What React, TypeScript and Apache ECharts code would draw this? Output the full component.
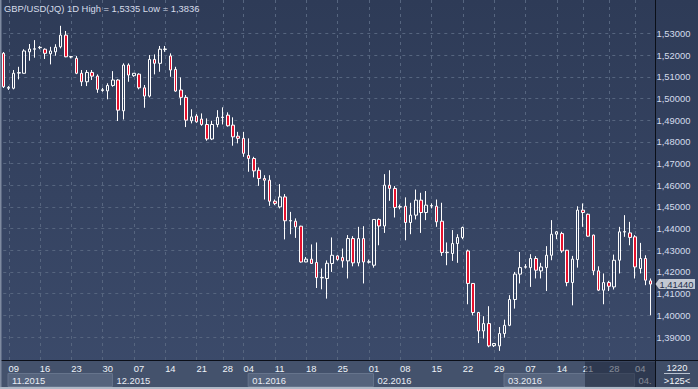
import React, { useEffect, useRef } from 'react';
import * as echarts from 'echarts';

const dates = [
  '2015-11-08',
  '2015-11-09','2015-11-10','2015-11-11','2015-11-12','2015-11-13','2015-11-15',
  '2015-11-16','2015-11-17','2015-11-18','2015-11-19','2015-11-20','2015-11-22',
  '2015-11-23','2015-11-24','2015-11-25','2015-11-26','2015-11-27','2015-11-29',
  '2015-11-30','2015-12-01','2015-12-02','2015-12-03','2015-12-04','2015-12-06',
  '2015-12-07','2015-12-08','2015-12-09','2015-12-10','2015-12-11','2015-12-13',
  '2015-12-14','2015-12-15','2015-12-16','2015-12-17','2015-12-18','2015-12-20',
  '2015-12-21','2015-12-22','2015-12-23','2015-12-24','2015-12-27',
  '2015-12-28','2015-12-29','2015-12-30','2015-12-31',
  '2016-01-04','2016-01-05','2016-01-06','2016-01-07','2016-01-08','2016-01-10',
  '2016-01-11','2016-01-12','2016-01-13','2016-01-14','2016-01-15','2016-01-17',
  '2016-01-18','2016-01-19','2016-01-20','2016-01-21','2016-01-22','2016-01-24',
  '2016-01-25','2016-01-26','2016-01-27','2016-01-28','2016-01-29','2016-01-31',
  '2016-02-01','2016-02-02','2016-02-03','2016-02-04','2016-02-05','2016-02-07',
  '2016-02-08','2016-02-09','2016-02-10','2016-02-11','2016-02-12','2016-02-14',
  '2016-02-15','2016-02-16','2016-02-17','2016-02-18','2016-02-19','2016-02-21',
  '2016-02-22','2016-02-23','2016-02-24','2016-02-25','2016-02-26','2016-02-28',
  '2016-02-29','2016-03-01','2016-03-02','2016-03-03','2016-03-04','2016-03-06',
  '2016-03-07','2016-03-08','2016-03-09','2016-03-10','2016-03-11','2016-03-13',
  '2016-03-14','2016-03-15','2016-03-16','2016-03-17','2016-03-18',
  '2016-03-21','2016-03-22','2016-03-23','2016-03-24','2016-03-27',
  '2016-03-28','2016-03-29','2016-03-30','2016-03-31','2016-04-01',
  '2016-04-04','2016-04-05','2016-04-06','2016-04-07',
];

const opens = [
  1.5208, 1.5047, 1.5047, 1.5117, 1.5116, 1.5215, 1.5227, 1.5234, 1.5227, 1.5206,
  1.5215, 1.5238, 1.5292, 1.5191, 1.5185, 1.5116, 1.5077, 1.5120, 1.5103, 1.5037,
  1.5035, 1.5060, 1.5085, 1.4943, 1.5154, 1.5105, 1.5112, 1.5049, 1.5011, 1.5180,
  1.5162, 1.5226, 1.5196, 1.5134, 1.5039, 1.5005, 1.4897, 1.4919, 1.4905, 1.4880,
  1.4813, 1.4880, 1.4912, 1.4923, 1.4877, 1.4826, 1.4816, 1.4737, 1.4723, 1.4669,
  1.4631, 1.4623, 1.4526, 1.4500, 1.4546, 1.4435, 1.4434, 1.4411, 1.4246, 1.4259,
  1.4244, 1.4173, 1.4170, 1.4239, 1.4274, 1.4267, 1.4251, 1.4354, 1.4242, 1.4354,
  1.4245, 1.4231, 1.4442, 1.4412, 1.4600, 1.4585, 1.4499, 1.4503, 1.4428, 1.4462,
  1.4531, 1.4474, 1.4504, 1.4503, 1.4434, 1.4289, 1.4285, 1.4331, 1.4359, 1.4297,
  1.4147, 1.4013, 1.3928, 1.3962, 1.3860, 1.3859, 1.3916, 1.3954, 1.4073, 1.4190,
  1.4222, 1.4220, 1.4262, 1.4205, 1.4220, 1.4277, 1.4374, 1.4377, 1.4300, 1.4151,
  1.4257, 1.4485, 1.4466, 1.4370, 1.4205, 1.4116, 1.4151, 1.4131, 1.4254, 1.4384,
  1.4380, 1.4362, 1.4216, 1.4262, 1.4159,
];

const closes = [
  1.5054, 1.5051, 1.5116, 1.5119, 1.5219, 1.5228, 1.5229, 1.5236, 1.5208, 1.5219,
  1.5236, 1.5292, 1.5192, 1.5193, 1.5116, 1.5077, 1.5120, 1.5103, 1.5042, 1.5040,
  1.5060, 1.5085, 1.4946, 1.5154, 1.5108, 1.5116, 1.5049, 1.5011, 1.5180, 1.5162,
  1.5227, 1.5228, 1.5131, 1.5034, 1.5005, 1.4900, 1.4915, 1.4892, 1.4880, 1.4813,
  1.4880, 1.4913, 1.4914, 1.4874, 1.4823, 1.4816, 1.4747, 1.4723, 1.4666, 1.4631,
  1.4623, 1.4526, 1.4516, 1.4546, 1.4436, 1.4437, 1.4408, 1.4246, 1.4259, 1.4239,
  1.4174, 1.4175, 1.4240, 1.4277, 1.4257, 1.4251, 1.4354, 1.4242, 1.4354, 1.4246,
  1.4247, 1.4442, 1.4412, 1.4600, 1.4585, 1.4497, 1.4501, 1.4428, 1.4462, 1.4531,
  1.4474, 1.4508, 1.4506, 1.4431, 1.4290, 1.4291, 1.4331, 1.4359, 1.4405, 1.4147,
  1.4013, 1.3928, 1.3962, 1.3859, 1.3870, 1.3916, 1.3954, 1.4073, 1.4190, 1.4220,
  1.4224, 1.4262, 1.4208, 1.4223, 1.4277, 1.4374, 1.4385, 1.4297, 1.4151, 1.4259,
  1.4485, 1.4474, 1.4365, 1.4205, 1.4116, 1.4151, 1.4134, 1.4254, 1.4385, 1.4386,
  1.4359, 1.4223, 1.4262, 1.4162, 1.4144,
];

const lows = [
  1.5048, 1.5039, 1.5042, 1.5088, 1.5115, 1.5174, 1.5188, 1.5227, 1.5182, 1.5157,
  1.5197, 1.5231, 1.5190, 1.5185, 1.5112, 1.5057, 1.5057, 1.5085, 1.5026, 1.5031,
  1.4996, 1.5054, 1.4896, 1.4903, 1.5077, 1.5100, 1.5042, 1.4957, 1.5005, 1.5111,
  1.5123, 1.5215, 1.5100, 1.5031, 1.4969, 1.4868, 1.4885, 1.4888, 1.4874, 1.4805,
  1.4808, 1.4867, 1.4880, 1.4870, 1.4782, 1.4793, 1.4731, 1.4662, 1.4636, 1.4597,
  1.4534, 1.4505, 1.4508, 1.4493, 1.4350, 1.4374, 1.4357, 1.4243, 1.4245, 1.4237,
  1.4126, 1.4120, 1.4077, 1.4200, 1.4252, 1.4220, 1.4170, 1.4226, 1.4226, 1.4147,
  1.4239, 1.4220, 1.4323, 1.4380, 1.4528, 1.4451, 1.4489, 1.4346, 1.4374, 1.4442,
  1.4380, 1.4439, 1.4493, 1.4408, 1.4274, 1.4231, 1.4251, 1.4242, 1.4351, 1.4051,
  1.4000, 1.3872, 1.3893, 1.3853, 1.3854, 1.3836, 1.3897, 1.3950, 1.4031, 1.4147,
  1.4216, 1.4131, 1.4170, 1.4170, 1.4112, 1.4254, 1.4351, 1.4288, 1.4134, 1.4046,
  1.4220, 1.4408, 1.4362, 1.4185, 1.4112, 1.4051, 1.4112, 1.4119, 1.4193, 1.4362,
  1.4323, 1.4170, 1.4193, 1.4139, 1.4000,
];

const highs = [
  1.5214, 1.5057, 1.5131, 1.5146, 1.5227, 1.5251, 1.5269, 1.5242, 1.5231, 1.5238,
  1.5250, 1.5335, 1.5311, 1.5196, 1.5196, 1.5131, 1.5131, 1.5131, 1.5111, 1.5049,
  1.5070, 1.5126, 1.5089, 1.5162, 1.5162, 1.5117, 1.5116, 1.5062, 1.5200, 1.5203,
  1.5242, 1.5242, 1.5208, 1.5146, 1.5097, 1.5016, 1.4950, 1.4928, 1.4931, 1.4908,
  1.4897, 1.4946, 1.4959, 1.4936, 1.4913, 1.4846, 1.4846, 1.4816, 1.4731, 1.4682,
  1.4646, 1.4646, 1.4534, 1.4605, 1.4559, 1.4477, 1.4447, 1.4413, 1.4269, 1.4327,
  1.4336, 1.4216, 1.4253, 1.4359, 1.4277, 1.4308, 1.4370, 1.4365, 1.4408, 1.4411,
  1.4257, 1.4443, 1.4447, 1.4651, 1.4669, 1.4596, 1.4511, 1.4544, 1.4519, 1.4580,
  1.4565, 1.4573, 1.4516, 1.4534, 1.4519, 1.4336, 1.4393, 1.4374, 1.4409, 1.4303,
  1.4149, 1.4016, 1.3996, 1.4042, 1.3872, 1.3946, 1.3980, 1.4093, 1.4200, 1.4292,
  1.4236, 1.4282, 1.4273, 1.4242, 1.4319, 1.4439, 1.4389, 1.4385, 1.4302, 1.4274,
  1.4503, 1.4516, 1.4469, 1.4372, 1.4226, 1.4193, 1.4159, 1.4280, 1.4408, 1.4462,
  1.4431, 1.4370, 1.4334, 1.4277, 1.4170,
];

const chartTitle = 'GBP/USD(JQ) 1D High = 1,5335 Low = 1,3836';
const cornerTop = '1220';
const yMin = 1.38;
const yMax = 1.54;
const yStep = 0.01;

const FONT = '"Liberation Sans", Arial, sans-serif';
const FS = 9.4;

export default function App() {
  const ref = useRef<HTMLDivElement>(null);

  useEffect(() => {
    const el = ref.current!;
    const chart = echarts.init(el, null, { renderer: 'svg', width: 698, height: 389 });
    const fmt = (v: number) => v.toFixed(5).replace('.', ',');
    const isMonday = (d: string) => new Date(d + 'T00:00:00Z').getUTCDay() === 1;
    const ohlc = opens.map((o, i) => [o, closes[i], lows[i], highs[i]]);

    chart.setOption({
      animation: false,
      backgroundColor: 'transparent',
      grid: { left: 3.3, right: 47.3, top: 11.7, bottom: 30.3, containLabel: false },
      xAxis: {
        type: 'category',
        data: dates,
        boundaryGap: false,
        offset: 2,
        axisLine: { show: false },
        axisTick: { show: false },
        axisLabel: {
          interval: (_i: number, v: string) => isMonday(v),
          formatter: (v: string) => v.slice(8, 10),
          align: 'left',
          margin: 3,
          color: '#eef2f8',
          fontSize: FS,
          fontFamily: FONT,
        },
        splitLine: { show: false },
      },
      yAxis: {
        type: 'value',
        position: 'right',
        min: yMin,
        max: yMax,
        interval: yStep,
        offset: 5.3,
        axisLine: { show: false },
        axisTick: { show: false },
        axisLabel: {
          formatter: fmt,
          showMinLabel: false,
          showMaxLabel: false,
          margin: 0.5,
          color: '#d4dcec',
          fontSize: FS,
          fontFamily: FONT,
        },
        splitLine: {
          show: true,
          showMinLine: false,
          showMaxLine: false,
          lineStyle: { color: '#56657f', type: [3, 4], width: 1 },
        },
      },
      series: [
        {
          type: 'candlestick',
          data: ohlc,
          barWidth: 3,
          clip: false,
          itemStyle: {
            color: 'rgba(0,0,0,0)',
            color0: '#e6112d',
            borderColor: '#ffffff',
            borderColor0: '#ffffff',
            borderColorDoji: '#ffffff',
            borderWidth: 1,
          },
        },
      ],
    });

    const px = (i: number) => chart.convertToPixel({ xAxisIndex: 0 }, dates[i]) as number;
    const band = px(1) - px(0);
    const months: { i: number; label: string }[] = [];
    dates.forEach((d, i) => {
      const key = d.slice(5, 7) + '.' + d.slice(0, 4);
      if (!months.length || months[months.length - 1].label !== key) months.push({ i, label: key });
    });
    const boxLeft = months.map((m) => px(m.i) + 0.9 * band);

    const g: any[] = [];
    // vertical weekly grid lines, placed on the category axis
    dates.forEach((d, i) => {
      if (!isMonday(d)) return;
      const x = Math.round(px(i)) + 0.5;
      g.push({ type: 'line', z: -2, shape: { x1: x, y1: 0, x2: x, y2: 360 }, style: { stroke: '#56657f', lineWidth: 1, lineDash: [3, 4] } });
    });
    // bottom strip
    g.push({ type: 'rect', z: -5, shape: { x: 0, y: 361, width: 656, height: 26 }, style: { fill: '#44526c' } });
    months.forEach((m, k) => {
      const l = boxLeft[k];
      const r = k + 1 < months.length ? boxLeft[k + 1] : 656;
      if (k % 2 === 0 && k < months.length - 1) {
        g.push({
          type: 'rect', z: -4,
          shape: { x: l, y: 373.5, width: Math.min(r, 656) - l, height: 13 },
          style: { fill: '#56647d', stroke: '#66748c', lineWidth: 1 },
        });
      }
      if (l + 4 < 656) {
        g.push({
          type: 'text', z: 5, x: l + 4, y: 380.5,
          style: {
            text: m.label, fill: '#e8ecf4', fontSize: FS, fontFamily: FONT, align: 'left', verticalAlign: 'middle',
            width: 658 - (l + 4), overflow: 'truncate', ellipsis: '',
          },
        });
      }
    });
    // right corner box
    g.push({ type: 'rect', z: 52, shape: { x: 656, y: 361, width: 42, height: 26 }, style: { fill: '#3f4d67' } });
    g.push({ type: 'text', z: 60, x: 677, y: 367.5, style: { text: cornerTop, fill: '#f2f4f8', fontSize: FS, fontFamily: FONT, align: 'center', verticalAlign: 'middle' } });
    g.push({ type: 'line', z: 60, shape: { x1: 664, y1: 373.5, x2: 690, y2: 373.5 }, style: { stroke: '#b8c2d0', lineWidth: 1 } });
    g.push({ type: 'text', z: 60, x: 677, y: 380.5, style: { text: '>' + dates.length + '<', fill: '#f2f4f8', fontSize: FS, fontFamily: FONT, align: 'center', verticalAlign: 'middle' } });
    // dim overlay at right of time strip
    g.push({ type: 'rect', z: 50, shape: { x: 585, y: 361.5, width: 70.5, height: 25.5 }, style: { fill: 'rgba(24,32,52,0.5)' } });
    // frame lines
    g.push({ type: 'line', z: 55, shape: { x1: 0, y1: 360.5, x2: 698, y2: 360.5 }, style: { stroke: '#0b0f18', lineWidth: 1 } });
    g.push({ type: 'line', z: 55, shape: { x1: 655.5, y1: 0, x2: 655.5, y2: 387 }, style: { stroke: '#0b0f18', lineWidth: 1 } });
    g.push({ type: 'rect', z: 55, shape: { x: 0, y: 387, width: 698, height: 2 }, style: { fill: '#aeb8c6' } });
    g.push({ type: 'rect', z: 55, shape: { x: 0, y: 0, width: 1.5, height: 387 }, style: { fill: '#7e8aa0' } });
    // title
    g.push({ type: 'text', z: 60, x: 4, y: 8.5, style: { text: chartTitle, fill: '#d6dcea', fontSize: FS, fontFamily: FONT, align: 'left', verticalAlign: 'middle' } });
    // last price marker
    const last = closes[closes.length - 1];
    const ly = chart.convertToPixel({ yAxisIndex: 0 }, last) as number;
    g.push({
      type: 'polygon', z: 60,
      shape: { points: [[655.5, ly], [659, ly - 5], [695, ly - 5], [695, ly + 5], [659, ly + 5]] },
      style: { fill: '#c3c8d2' },
    });
    g.push({ type: 'text', z: 61, x: 659.5, y: ly, style: { text: fmt(last), fill: '#26314a', fontSize: FS, fontFamily: FONT, align: 'left', verticalAlign: 'middle' } });

    chart.setOption({ graphic: g });

    return () => chart.dispose();
  }, []);

  return (
    <div
      ref={ref}
      style={{
        position: 'fixed',
        left: 0,
        top: 0,
        width: 698,
        height: 389,
        background: 'linear-gradient(to bottom, #2e3b57 0%, #3c4b6b 100%)',
      }}
    />
  );
}
